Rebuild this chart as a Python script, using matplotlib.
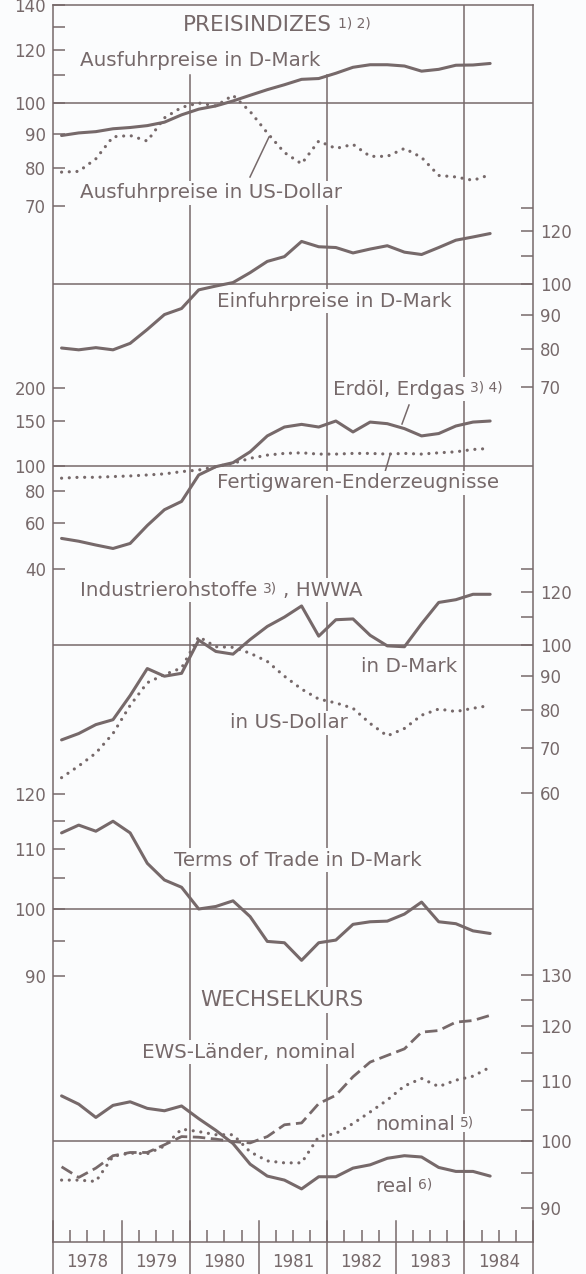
import numpy as np
import pandas as pd
import matplotlib
matplotlib.use('Agg')
import matplotlib.pyplot as plt
from matplotlib.lines import Line2D
from matplotlib.ticker import FixedLocator, FixedFormatter, NullLocator

INK = '#76696a'
BG = '#fbfcfd'
plt.rcParams['font.family'] = ['DejaVu Sans']

# Quartalswerte 1978 Q1 bis 1984 Q2
quarters = pd.period_range('1978Q1', '1984Q2', freq='Q')
x = quarters.year + (quarters.quarter - 0.5) / 4
years = list(range(1978, 1985))

# Preisindizes (1980 = 100)
ausfuhr_dm = [89.4, 90.2, 90.6, 91.5, 91.9, 92.5, 93.6, 96.0, 97.9, 99.0, 100.7, 102.7, 104.7,
              106.5, 108.5, 108.8, 110.8, 113.1, 114.1, 114.1, 113.6, 111.6, 112.3, 113.9, 114.0, 114.6]
ausfuhr_usd = [78.8, 79.0, 82.5, 89.0, 89.4, 87.7, 95.0, 98.5, 100.0, 99.0, 102.7, 97.1, 90.2,
               84.3, 81.1, 87.7, 85.5, 86.7, 83.2, 83.2, 85.5, 82.9, 77.9, 77.5, 76.6, 78.1]
einfuhr_dm = [80.2, 79.7, 80.3, 79.7, 81.5, 85.5, 90.0, 91.9, 98.0, 99.3, 100.5, 104.0, 108.1,
              109.9, 115.8, 113.7, 113.4, 111.3, 112.8, 114.1, 111.6, 110.7, 113.4, 116.3, 117.6, 119.0]
erdoel = [52.4, 51.1, 49.4, 47.9, 50.1, 58.8, 67.7, 72.9, 92.3, 99.4, 103.0, 113.5, 130.8,
          141.6, 145.0, 141.6, 149.4, 135.5, 148.0, 145.9, 139.6, 130.8, 133.6, 142.9, 148.0, 149.4]
fertigwaren = [89.7, 90.4, 90.4, 91.0, 91.5, 92.3, 93.2, 95.1, 96.5, 99.4, 102.4, 107.1, 110.2,
               111.9, 112.5, 111.2, 111.2, 111.9, 111.9, 111.2, 111.9, 111.2, 112.5, 113.5, 115.9, 117.0]
rohstoffe_dm = [72.1, 73.7, 76.0, 77.3, 84.0, 92.2, 89.8, 90.7, 101.7, 97.8, 96.9, 101.9, 106.6,
                110.1, 114.4, 103.1, 109.1, 109.4, 103.4, 99.7, 99.4, 107.6, 115.8, 116.9, 119.1, 119.1]
rohstoffe_usd = [63.3, 65.9, 68.9, 73.7, 81.2, 87.8, 90.3, 92.4, 102.9, 99.4, 99.2, 97.2, 94.5,
                 89.8, 85.9, 83.0, 81.9, 80.4, 76.3, 73.1, 75.0, 78.5, 80.2, 79.5, 80.4, 81.2]
terms_of_trade = [112.8, 114.2, 113.1, 114.9, 112.8, 107.5, 104.7, 103.5, 100.0, 100.4, 101.3, 98.8, 95.0,
                  94.8, 92.2, 94.8, 95.2, 97.6, 98.0, 98.1, 99.2, 101.1, 98.0, 97.7, 96.6, 96.2]

# Wechselkurs
ews_nominal = [96.0, 94.4, 95.8, 97.7, 98.2, 98.2, 99.4, 100.7, 100.6, 100.3, 99.9, 99.7, 100.7,
               102.6, 102.9, 106.1, 107.5, 110.7, 113.3, 114.5, 115.7, 118.8, 119.1, 120.7, 121.0, 122.0]
wk_nominal = [94.0, 94.0, 93.8, 97.6, 98.1, 98.0, 99.2, 101.9, 101.5, 101.0, 101.0, 98.3, 96.9,
              96.6, 96.6, 100.7, 101.2, 102.8, 104.7, 106.7, 109.1, 110.4, 109.0, 110.1, 110.8, 112.4]
wk_real = [107.4, 106.0, 103.8, 105.8, 106.4, 105.3, 104.9, 105.7, 103.6, 101.7, 99.6, 96.4, 94.6,
           94.0, 92.7, 94.5, 94.5, 95.8, 96.3, 97.3, 97.7, 97.5, 95.9, 95.3, 95.3, 94.6]

# Layout in Pixeln (Bild 586 x 1274)
W, H = 586, 1274
L, R, T, B = 53, 533, 5, 1242
rect = [L / W, (H - B) / H, (R - L) / W, (B - T) / H]

fig = plt.figure(figsize=(W / 100, H / 100), dpi=100, facecolor=BG)

ax = fig.add_axes(rect)
ax.set_facecolor(BG)
ax.set_xlim(1978, 1985)
ax.set_ylim(0, 1)
ax.set_yticks([])
for s in ax.spines.values():
    s.set_color(INK)
    s.set_linewidth(1.1)
qticks = [yr + f for yr in years for f in (0.25, 0.5, 0.75)]
ax.set_xticks(qticks)
ax.tick_params(axis='x', direction='in', length=8.5, width=1.1, color=INK, labelbottom=False)

hpx = B - T
for yr in range(1978, 1986):
    ax.axvline(yr, ymin=-(H - B) / hpx, ymax=21 / hpx, color=INK, lw=1.1, clip_on=False)
for yr in years:
    ax.text(yr + 0.5, -20 / hpx, str(yr), transform=ax.get_xaxis_transform(),
            ha='center', va='center', fontsize=12, color=INK)

# senkrechte Linien 1980, 1982, 1984
ax.axvline(1980, ymax=(B - 75) / hpx, color=INK, lw=1.1)
ax.axvline(1982, ymax=(B - 75) / hpx, color=INK, lw=1.1)
ax.axvline(1984, color=INK, lw=1.1)


def add_panel(y100, k, ticks, labels, side):
    p = fig.add_axes(rect)
    p.set_facecolor('none')
    p.set_xlim(1978, 1985)
    p.set_yscale('log')
    p.set_ylim(100 * 10 ** ((y100 - B) / k), 100 * 10 ** ((y100 - T) / k))
    for s in p.spines.values():
        s.set_visible(False)
    p.xaxis.set_visible(False)
    p.yaxis.set_major_locator(FixedLocator(ticks))
    p.yaxis.set_major_formatter(FixedFormatter(labels))
    p.yaxis.set_minor_locator(NullLocator())
    if side == 'right':
        p.yaxis.tick_right()
    p.tick_params(axis='y', direction='in', length=8.5, width=1.1, color=INK,
                  labelcolor=INK, labelsize=12, pad=5)
    p.axhline(100, color=INK, lw=1.1)
    return p


solid = dict(color=INK, lw=2.2, solid_capstyle='round', solid_joinstyle='round')
dotted = dict(color=INK, lw=2.3, linestyle=(0, (0.01, 2.4)), dash_capstyle='round')
dashed = dict(color=INK, lw=2.0, linestyle=(0, (4.5, 2.0)), dash_capstyle='butt')

p1 = add_panel(103, 668, [140, 130, 120, 110, 100, 90, 80, 70],
               ['140', '', '120', '', '100', '90', '80', '70'], 'left')
p1.plot(x, ausfuhr_dm, **solid)
p1.plot(x, ausfuhr_usd, **dotted)

p2 = add_panel(284, 668, [130, 120, 110, 100, 90, 80, 70],
               ['', '120', '', '100', '90', '80', '70'], 'right')
p2.plot(x, einfuhr_dm, **solid)

p3 = add_panel(466, 258, [200, 150, 100, 80, 60, 40],
               ['200', '150', '100', '80', '60', '40'], 'left')
p3.plot(x, erdoel, **solid)
p3.plot(x, fertigwaren, **dotted)

p4 = add_panel(645, 668, [130, 120, 110, 100, 90, 80, 70, 60],
               ['', '120', '', '100', '90', '80', '70', '60'], 'right')
p4.plot(x, rohstoffe_dm, **solid)
p4.plot(x, rohstoffe_usd, **dotted)

p5 = add_panel(909, 1455, [120, 115, 110, 105, 100, 95, 90],
               ['120', '', '110', '', '100', '', '90'], 'left')
p5.plot(x, terms_of_trade, **solid)

p6 = add_panel(1141, 1455, [130, 125, 120, 115, 110, 105, 100, 95, 90],
               ['130', '', '120', '', '110', '', '100', '', '90'], 'right')
p6.plot(x, wk_real, **solid)
p6.plot(x, wk_nominal, **dotted)
p6.plot(x, ews_nominal, **dashed)

box = dict(boxstyle='square,pad=0.15', fc=BG, ec='none')


def label(px, py, s, size=14.3, sup=None):
    t = fig.text(px / W, 1 - py / H, s, ha='left', va='center', fontsize=size,
                 color=INK, bbox=box)
    if sup:
        fig.add_artist(plt.Annotation(sup, xy=(1, 1), xycoords=t, xytext=(4, -1),
                                      textcoords='offset points', ha='left', va='top',
                                      fontsize=10, color=INK, bbox=box))


def leader(x0, y0, x1, y1):
    fig.add_artist(Line2D([x0 / W, x1 / W], [1 - y0 / H, 1 - y1 / H], color=INK, lw=1.1))


label(183, 25, 'PREISINDIZES', size=15.5, sup='1) 2)')

label(80, 61, 'Ausfuhrpreise in D-Mark')
label(80, 193, 'Ausfuhrpreise in US-Dollar')
leader(269, 137, 250, 177)
label(217, 301, 'Einfuhrpreise in D-Mark')
label(333, 389, 'Erdöl, Erdgas', sup='3) 4)')
leader(409, 405, 402, 424)
label(217, 483, 'Fertigwaren-Enderzeugnisse')
leader(390, 455, 385, 472)
label(80, 590, 'Industrierohstoffe', sup='3)')
label(283, 590, ', HWWA')
label(361, 667, 'in D-Mark')
label(230, 723, 'in US-Dollar')
label(174, 860, 'Terms of Trade in D-Mark')
label(200, 1000, 'WECHSELKURS', size=15.5)
label(142, 1052, 'EWS-Länder, nominal')
label(375, 1124, 'nominal', sup='5)')
label(375, 1186, 'real', sup='6)')

fig.savefig('out.png', dpi=100, facecolor=BG)
